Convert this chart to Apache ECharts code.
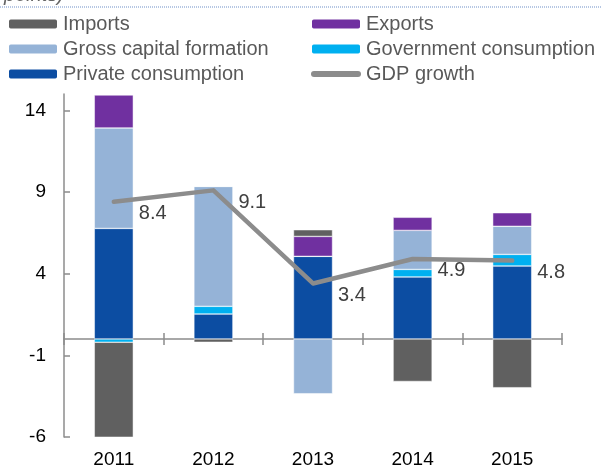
<!DOCTYPE html>
<html>
<head>
<meta charset="utf-8">
<script src="https://cdn.jsdelivr.net/npm/echarts@6/dist/echarts.min.js"></script>
<style>
  html, body { margin: 0; padding: 0; background: #fff; }
  #chart { width: 602px; height: 470px; }
</style>
</head>
<body>
<div id="chart"></div>
<script>
// contributions to GDP growth, percentage points
const years = ["2011", "2012", "2013", "2014", "2015"];
const privateConsumption = [6.77, 1.53, 5.06, 3.8, 4.47];
const governmentConsumption = [-0.2, 0.47, 0, 0.46, 0.71];
const grossCapitalFormation = [6.15, 7.34, -3.35, 2.39, 1.72];
const exportsData = [2.02, 0, 1.22, 0.8, 0.83];
const importsData = [-5.95, -0.2, 0.41, -2.6, -2.98];
const gdpGrowth = [8.4, 9.1, 3.4, 4.9, 4.8];
const yTicks = [-6, -1, 4, 9, 14];

const FONT = "'Liberation Sans', Arial, sans-serif";
const AXIS_GREY = "#8c8c8c";

function barSeries(name, data, color) {
  return {
    name,
    type: "bar",
    stack: "contrib",
    data,
    barWidth: 39,
    itemStyle: { color, borderColor: "#ffffff", borderWidth: 0.5 },
  };
}

// zero-line axis: ticks cross the line, so one axis draws upward ticks and another downward
function zeroAxis(position, showLine, yIndex) {
  return {
    type: "category",
    data: years,
    position,
    axisLine: {
      show: showLine,
      onZero: true,
      onZeroAxisIndex: yIndex,
      lineStyle: { color: AXIS_GREY, width: 1.5 },
    },
    axisTick: { show: true, inside: false, length: 6, lineStyle: { color: AXIS_GREY, width: 1.5 } },
    axisLabel: { show: false },
    splitLine: { show: false },
  };
}

const chart = echarts.init(document.getElementById("chart"));

const legendText = { fontSize: 20, color: "#595959", fontFamily: FONT };

chart.setOption({
  animation: false,
  backgroundColor: "#ffffff",
  textStyle: { fontFamily: FONT },
  grid: { left: 64, right: 40, top: 94, bottom: 33, containLabel: false, outerBoundsMode: "none" },
  graphic: [
    {
      type: "line",
      shape: { x1: 0, y1: 7, x2: 602, y2: 7 },
      style: { stroke: "#6f8fc8", lineWidth: 1, lineDash: [1, 1] },
    },
    {
      type: "text",
      left: 4,
      top: -15,
      style: { text: "points)", fontSize: 20, fontStyle: "italic", fill: "#666", fontFamily: FONT },
    },
  ],
  legend: [
    {
      data: ["Imports", "Gross capital formation", "Private consumption"],
      orient: "vertical",
      left: 7,
      top: 14,
      padding: 0,
      itemWidth: 50,
      itemHeight: 11,
      itemGap: 5,
      selectedMode: false,
      textStyle: legendText,
    },
    {
      data: [
        "Exports",
        "Government consumption",
        {
          name: "GDP growth",
          icon: "path://M3,0 L47,0 A3,3 0 0 1 47,6 L3,6 A3,3 0 0 1 3,0 Z",
        },
      ],
      orient: "vertical",
      left: 310,
      top: 14,
      padding: 0,
      itemWidth: 50,
      itemHeight: 11,
      itemGap: 5,
      selectedMode: false,
      textStyle: legendText,
    },
  ],
  xAxis: [
    {
      type: "category",
      data: years,
      position: "bottom",
      axisLine: { show: false, onZero: false },
      axisTick: { show: false },
      axisLabel: { margin: 13, fontSize: 19, color: "#000", fontFamily: FONT },
      splitLine: { show: false },
    },
    zeroAxis("top", true, 0),
    zeroAxis("bottom", false, 1),
  ],
  yAxis: [
    {
      type: "value",
      min: -6,
      max: 15,
      axisLine: { show: true, lineStyle: { color: AXIS_GREY, width: 1.5 } },
      axisTick: {
        show: true,
        inside: true,
        length: 6,
        customValues: yTicks,
        lineStyle: { color: AXIS_GREY, width: 1.5 },
      },
      axisLabel: { customValues: yTicks, margin: 18, fontSize: 19, color: "#000", fontFamily: FONT },
      splitLine: { show: false },
    },
    {
      // hidden twin, only used as the zero reference for the downward-tick axis
      type: "value",
      min: -6,
      max: 15,
      position: "right",
      show: false,
      splitLine: { show: false },
    },
  ],
  series: [
    barSeries("Private consumption", privateConsumption, "#0c4da2"),
    barSeries("Government consumption", governmentConsumption, "#00b0f0"),
    barSeries("Gross capital formation", grossCapitalFormation, "#95b3d7"),
    barSeries("Exports", exportsData, "#7030a0"),
    barSeries("Imports", importsData, "#606060"),
    {
      name: "GDP growth",
      type: "line",
      data: gdpGrowth,
      z: 5,
      symbol: "circle",
      symbolSize: 2,
      symbolKeepAspect: true,
      itemStyle: { color: "#8c8c8c" },
      lineStyle: { color: "#8c8c8c", width: 4.5, cap: "round", join: "round" },
      label: {
        show: true,
        position: "right",
        distance: 24,
        offset: [0, 12],
        fontSize: 20,
        color: "#404040",
        fontFamily: FONT,
        formatter: (p) => p.value.toFixed(1),
      },
    },
  ],
});
</script>
</body>
</html>
